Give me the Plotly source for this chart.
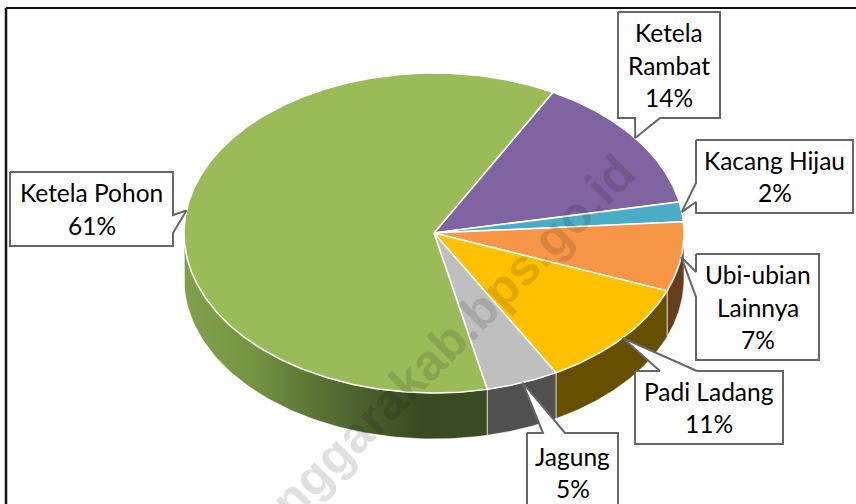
import numpy as np
import plotly.graph_objects as go

categories = ["Ketela Rambat", "Kacang Hijau", "Ubi-ubian Lainnya", "Padi Ladang", "Jagung", "Ketela Pohon"]
values = [14, 2, 7, 11, 4.7, 61.3]
label_lines = [["Ketela", "Rambat", "14%"], ["Kacang Hijau", "2%"], ["Ubi-ubian", "Lainnya", "7%"],
               ["Padi Ladang", "11%"], ["Jagung", "5%"], ["Ketela Pohon", "61%"]]
top_colors = ["#8064A2", "#4BACC6", "#F79646", "#FFC000", "#BFBFBF", "#9BBB59"]
wall_colors = ["#4D3C62", "#2D6776", "#663D1F", "#665000", "#505050", None]
green_wall = [[0, "#80A04C"], [0.22, "#769543"], [0.38, "#617B37"], [0.55, "#4F6530"], [0.78, "#3A4A20"], [1, "#3C4C22"]]

# page geometry (pixels)
CX, CY, RX, RY, DEPTH = 434, 233, 250, 160, 46
START = 28.4
# box x0,y0,x1,y1 ; side of the callout pointer ; two base positions along that side
boxes = {
    "Ketela Rambat": (618, 12, 720, 118, "bottom", 635, 660),
    "Kacang Hijau": (696, 140, 853, 213, "left", 183, 202),
    "Ubi-ubian Lainnya": (696, 254, 819, 360, "left", 272, 297),
    "Padi Ladang": (635, 371, 783, 444, "top", 660, 697),
    "Jagung": (527, 433, 618, 530, "top", 543, 565),
    "Ketela Pohon": (10, 172, 173, 246, "right", 215, 233),
}


def rim(deg, drop=0):
    a = np.radians(np.asarray(deg, dtype=float))
    return CX + RX * np.sin(a), CY - RY * np.cos(a) + drop


shares = np.array(values) / sum(values) * 360
starts = START + np.concatenate([[0], np.cumsum(shares)[:-1]])
ends = starts + shares

fig = go.Figure()

# side walls (only the front half of the disc shows)
for name, a0, a1, wc in zip(categories, starts, ends, wall_colors):
    lo, hi = max(a0, 90), min(a1, 270)
    if lo >= hi:
        continue
    t = np.linspace(lo, hi, 80)
    x1, y1 = rim(t)
    x2, y2 = rim(t[::-1], DEPTH)
    kw = dict(fillcolor=wc) if wc else dict(
        fillgradient=dict(type="horizontal", colorscale=green_wall, start=CX - RX, stop=rim(a0)[0]))
    fig.add_trace(go.Scatter(x=np.r_[x1, x2, x1[0]], y=np.r_[y1, y2, y1[0]], mode="lines", fill="toself",
                             line=dict(color="rgba(255,255,255,0.6)", width=1), hoverinfo="skip", name=name, **kw))

# top faces
for name, a0, a1, c in zip(categories, starts, ends, top_colors):
    t = np.linspace(a0, a1, max(int(a1 - a0) * 2, 8))
    x, y = rim(t)
    fig.add_trace(go.Scatter(x=np.r_[CX, x, CX], y=np.r_[CY, y, CY], mode="lines", fill="toself", fillcolor=c,
                             line=dict(color="white", width=1.5), hoverinfo="skip", name=name))

# callouts
annotations = []
for name, a0, a1, lines in zip(categories, starts, ends, label_lines):
    x0, y0, x1, y1, side, b0, b1 = boxes[name]
    tx, ty = rim((a0 + a1) / 2)
    if side == "bottom":
        px = [x0, x1, x1, b1, tx, b0, x0, x0]; py = [y0, y0, y1, y1, ty, y1, y1, y0]
    elif side == "top":
        px = [x0, b0, tx, b1, x1, x1, x0, x0]; py = [y0, y0, ty, y0, y0, y1, y1, y0]
    elif side == "left":
        px = [x0, x1, x1, x0, x0, tx, x0, x0]; py = [y0, y0, y1, y1, b1, ty, b0, y0]
    else:
        px = [x0, x1, x1, tx, x1, x1, x0, x0]; py = [y0, y0, b0, ty, b1, y1, y1, y0]
    fig.add_trace(go.Scatter(x=px, y=py, mode="lines", fill="toself", fillcolor="white",
                             line=dict(color="#666666", width=2), hoverinfo="skip", name=name + " label"))
    n = len(lines)
    first = {"Jagung": 456}.get(name, (y0 + y1) / 2 - (n - 1) * 16.3)
    for i, s in enumerate(lines):
        annotations.append(dict(text=s, x=(x0 + x1) / 2, y=first + i * 32.6, xref="x", yref="y", showarrow=False,
                                xanchor="center", yanchor="middle", font=dict(family="Lato", size=24.5, color="#000000")))

# watermark, in the diagonal of the reference
annotations.insert(0, dict(text="<b>tenggarakab.bps.go.id</b>", x=437, y=353, xref="x", yref="y", textangle=-45,
                           showarrow=False, font=dict(family="Liberation Sans", size=50, color="rgba(0,0,0,0.12)")))

fig.update_layout(
    width=856, height=504, margin=dict(l=0, r=0, t=0, b=0), showlegend=False,
    paper_bgcolor="white", plot_bgcolor="white",
    xaxis=dict(range=[0, 856], visible=False, fixedrange=True),
    yaxis=dict(range=[504, 0], visible=False, fixedrange=True),
    annotations=annotations,
    shapes=[dict(type="line", xref="x", yref="y", x0=6, y0=8, x1=856, y1=8, line=dict(color="#111111", width=2)),
            dict(type="line", xref="x", yref="y", x0=6, y0=8, x1=6, y1=504, line=dict(color="#111111", width=2.5))],
)
fig.write_html("out.html", config={"displayModeBar": False},
               post_script="document.body.style.margin='0';document.body.style.overflow='hidden';")
